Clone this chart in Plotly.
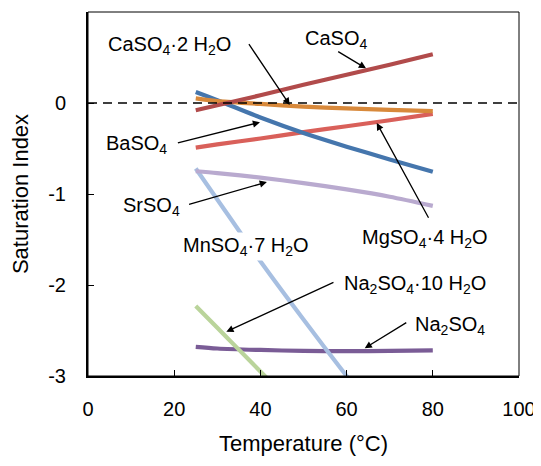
import plotly.graph_objects as go

# ---- data ----
temp_full = [25, 30, 40, 50, 60, 70, 80]
caso4 = [-0.08, -0.025, 0.085, 0.20, 0.31, 0.42, 0.535]
caso4_2h2o = [0.05, 0.02, -0.01, -0.04, -0.06, -0.075, -0.09]
baso4 = [0.12, 0.03, -0.16, -0.33, -0.48, -0.62, -0.755]
mgso4_4h2o = [-0.49, -0.455, -0.39, -0.32, -0.255, -0.19, -0.12]
srso4 = [-0.75, -0.77, -0.82, -0.88, -0.95, -1.03, -1.13]
na2so4 = [-2.68, -2.698, -2.714, -2.724, -2.727, -2.724, -2.718]
temp_mn = [25, 30, 40, 50, 60, 70]
mnso4_7h2o = [-0.72, -1.06, -1.74, -2.38, -3.0, -3.6]
temp_na10 = [25, 30, 35, 40, 45]
na2so4_10h2o = [-2.23, -2.47, -2.71, -2.95, -3.19]

x_ticks = [0, 20, 40, 60, 80, 100]
y_ticks = [-3, -2, -1, 0, 1]
y_ticktext = ["-3", "-2", "-1", "0", "1"]

# label text, label position, arrow tail, arrow tip (data coords)
labels = [
    # text, lx, ly, tail_x, tail_y, tip_x, tip_y
    ("CaSO<sub>4</sub>·2 H<sub>2</sub>O", 19.0, 0.63, 37.1, 0.663, 46.8, -0.022),
    ("CaSO<sub>4</sub>", 57.5, 0.70, 57.7, 0.575, 64.5, 0.381),
    ("BaSO<sub>4</sub>", 11.3, -0.46, 20.5, -0.443, 39.9, -0.212),
    ("SrSO<sub>4</sub>", 14.8, -1.14, 23.1, -1.12, 41.5, -0.868),
    ("MgSO<sub>4</sub>·4 H<sub>2</sub>O", 78.3, -1.49, 79.2, -1.278, 67.0, -0.22),
    ("Na<sub>2</sub>SO<sub>4</sub>·10 H<sub>2</sub>O", 75.9, -1.99, 57.3, -1.964, 32.1, -2.513),
    ("Na<sub>2</sub>SO<sub>4</sub>", 84.1, -2.44, 74.2, -2.403, 64.2, -2.695),
]
mn_label = ("MnSO<sub>4</sub>·7 H<sub>2</sub>O", 36.7, -1.58)

FONT = "Liberation Sans, Arial, Helvetica, sans-serif"
LW = 4.2

fig = go.Figure()

def add(x, y, color):
    fig.add_trace(go.Scatter(x=x, y=y, mode="lines",
                             line=dict(color=color, width=LW, shape="spline",
                                       smoothing=0.8),
                             showlegend=False, hoverinfo="skip"))

add(temp_full, na2so4, "#7A5C96")
add(temp_mn, mnso4_7h2o, "#A7BFE1")
add(temp_full, srso4, "#B9AACF")
add(temp_full, mgso4_4h2o, "#D9605A")
add(temp_full, baso4, "#4576AD")
add(temp_full, caso4_2h2o, "#D8893B")
add(temp_full, caso4, "#B14B4B")
add(temp_na10, na2so4_10h2o, "#BAD49B")

# zero reference line
fig.add_shape(type="line", xref="x domain", yref="y", x0=0, x1=1, y0=0, y1=0,
              line=dict(color="black", width=1.4, dash="9px,6px"), layer="above")
# thin frame for top/right
fig.add_shape(type="rect", xref="x domain", yref="y domain", x0=0, x1=1, y0=0, y1=1,
              line=dict(color="black", width=1), layer="above")

for text, lx, ly, tx, ty, hx, hy in labels:
    fig.add_annotation(x=hx, y=hy, ax=tx, ay=ty, xref="x", yref="y",
                       axref="x", ayref="y", text="", showarrow=True,
                       arrowhead=2, arrowsize=1.1, arrowwidth=1.3, arrowcolor="black",
                       standoff=0, startstandoff=0)
    fig.add_annotation(x=lx, y=ly, xref="x", yref="y", text=text, showarrow=False,
                       font=dict(family=FONT, size=20, color="black"))

fig.add_annotation(x=mn_label[1], y=mn_label[2], xref="x", yref="y", text=mn_label[0],
                   showarrow=False, bgcolor="white",
                   font=dict(family=FONT, size=20, color="black"))

fig.update_layout(
    width=533, height=458,
    margin=dict(l=80, r=22, t=4, b=90, autoexpand=False),
    paper_bgcolor="white", plot_bgcolor="white",
    font=dict(family=FONT, size=20, color="black"),
    xaxis=dict(range=[0, 100], tickvals=x_ticks, ticks="inside", ticklen=6,
               tickcolor="black", showline=True, linecolor="black", linewidth=2,
               showgrid=False, zeroline=False, ticklabelstandoff=14, automargin=False,
               title=dict(text="Temperature (°C)", standoff=17,
                          font=dict(family=FONT, size=22))),
    yaxis=dict(range=[-3, 1], tickvals=y_ticks, ticktext=y_ticktext, ticks="inside",
               ticklen=6, tickcolor="black", showline=True, linecolor="black",
               linewidth=2, showgrid=False, zeroline=False, ticklabelstandoff=16,
               automargin=False,
               title=dict(text="Saturation Index", standoff=17,
                          font=dict(family=FONT, size=22))),
)

fig.write_html("out.html")
